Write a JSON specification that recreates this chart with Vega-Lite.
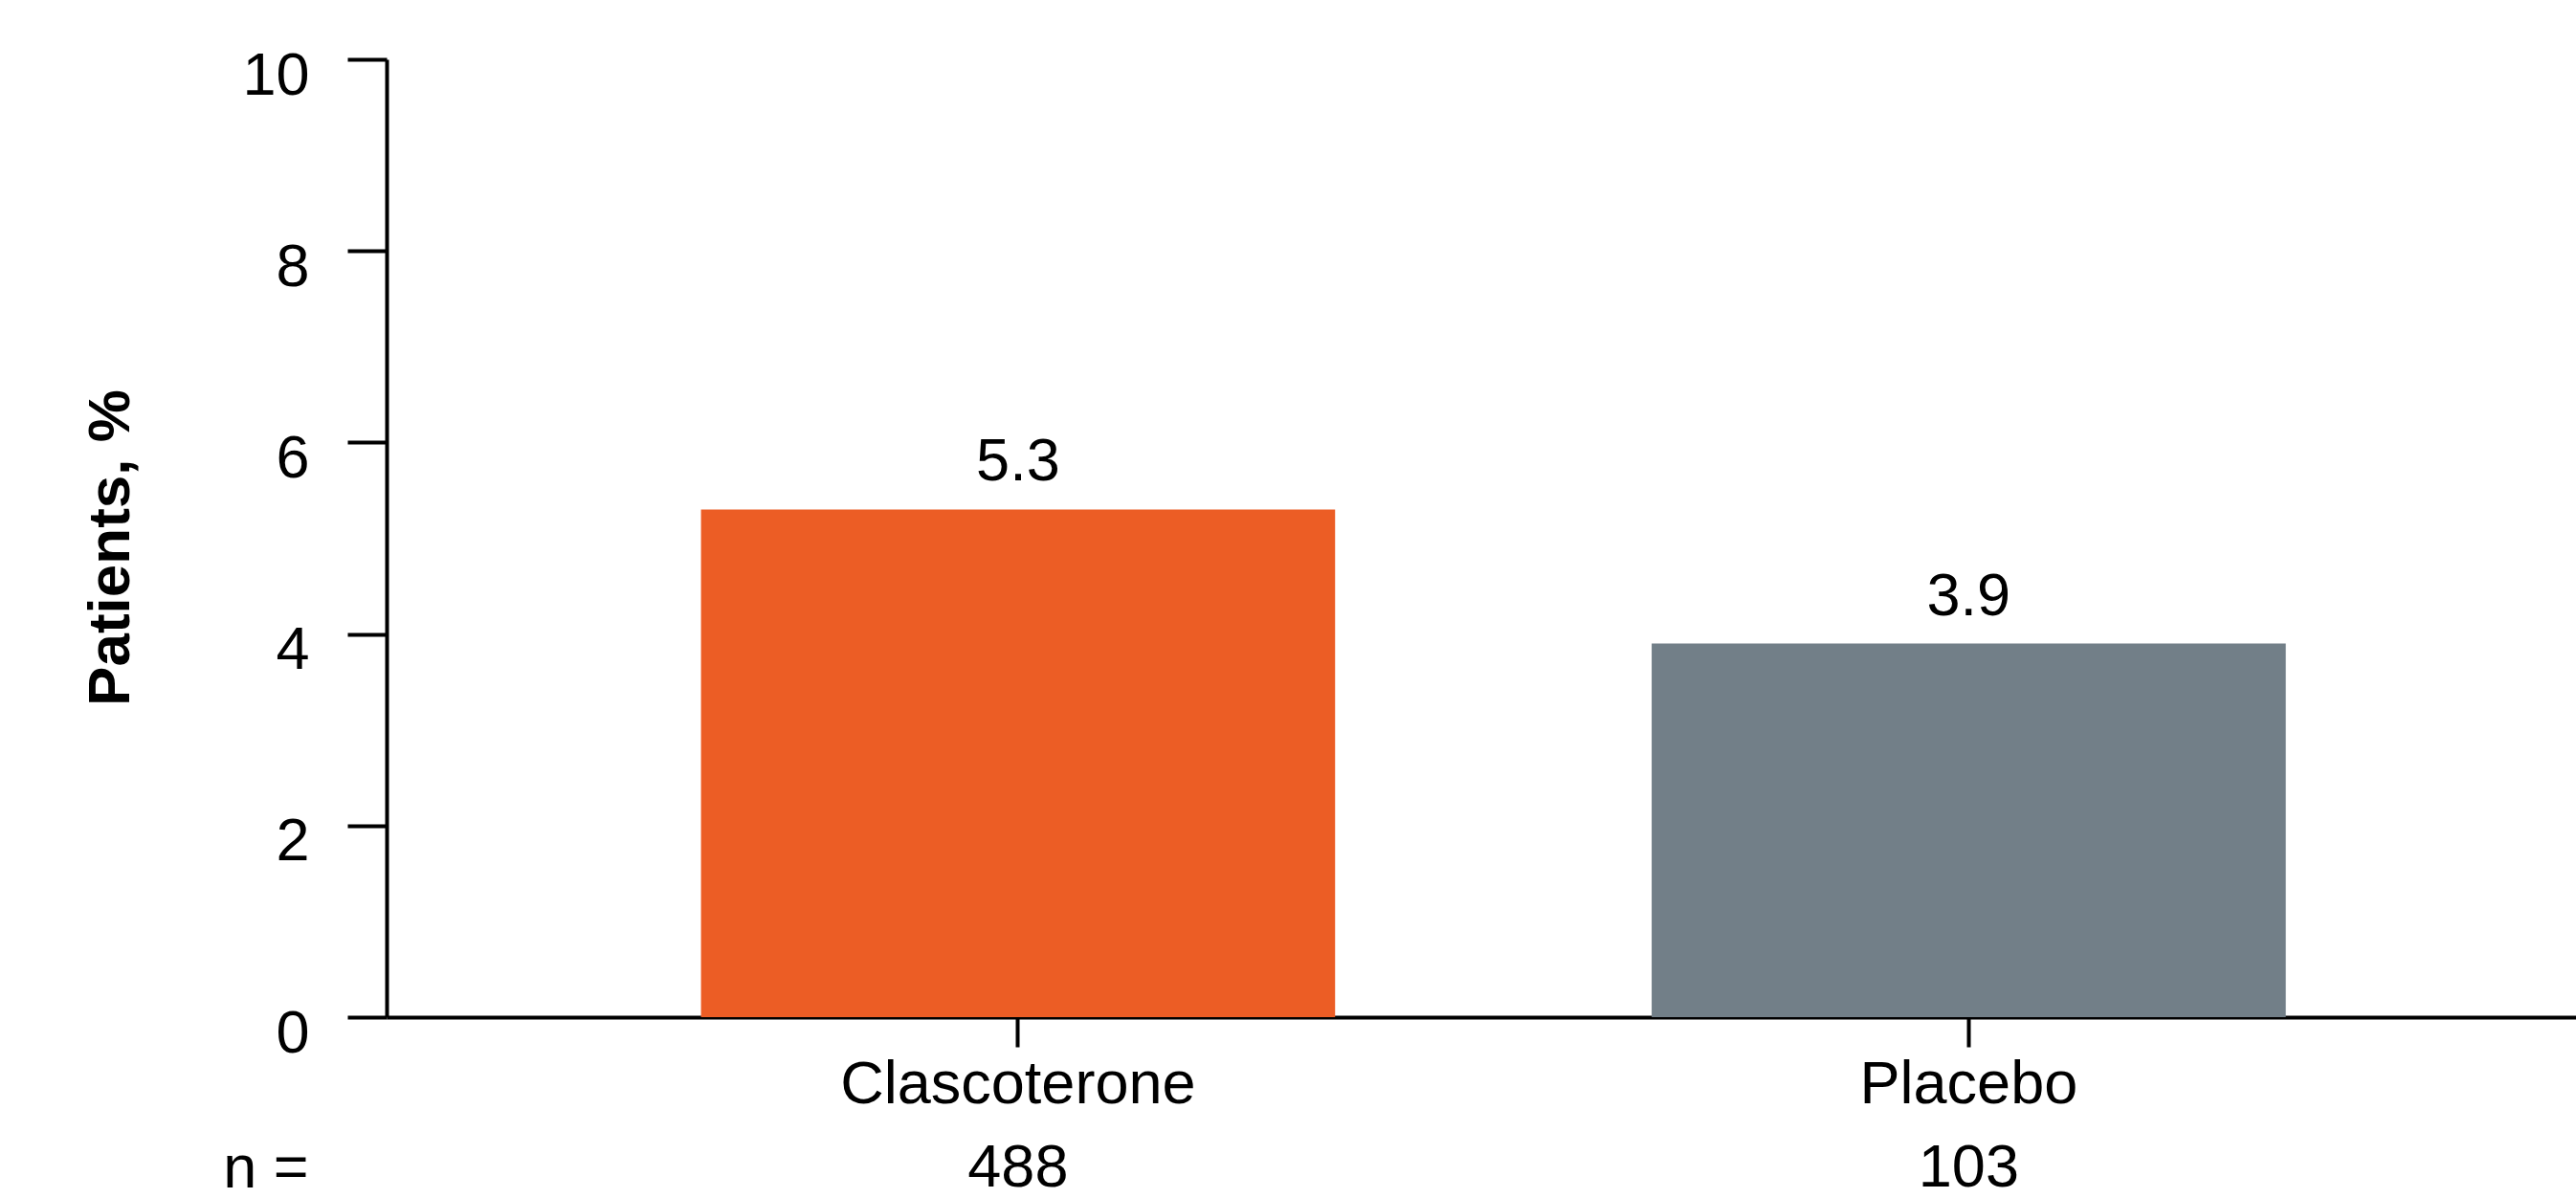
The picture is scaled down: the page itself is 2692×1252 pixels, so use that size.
{
  "$schema": "https://vega.github.io/schema/vega-lite/v6.json",
  "autosize": "none",
  "width": 2288,
  "height": 1001,
  "padding": {"left": 404, "top": 62, "right": 0, "bottom": 189},
  "background": "white",
  "config": {"view": {"stroke": null}, "font": "Liberation Sans"},
  "data": {"values": [
    {"group": "Clascoterone", "pct": 5.3, "n": 488},
    {"group": "Placebo", "pct": 3.9, "n": 103}
  ]},
  "encoding": {
    "x": {
      "field": "group", "type": "nominal", "sort": null,
      "scale": {"paddingInner": 0.333, "paddingOuter": 0.318, "align": 0.52},
      "axis": {
        "title": "n =", "labelAngle": 0, "labelFontSize": 63, "labelColor": "black", "labelLimit": 0,
        "labelBaseline": "alphabetic", "labelPadding": 58,
        "tickSize": 31, "tickWidth": 4, "tickColor": "black",
        "domainColor": "black", "domainWidth": 4,
        "titleFontSize": 63, "titleFontWeight": "normal", "titleColor": "black",
        "titleX": -82, "titleY": 177, "titleAlign": "right", "titleBaseline": "alphabetic", "titleAngle": 0
      }
    },
    "y": {
      "field": "pct", "type": "quantitative",
      "scale": {"domain": [0, 10], "nice": false},
      "axis": {
        "title": "Patients, %", "values": [0, 2, 4, 6, 8, 10], "grid": false,
        "labelFontSize": 63, "labelColor": "black", "labelBaseline": "alphabetic", "labelOffset": 36,
        "labelPadding": 40, "tickSize": 41, "tickWidth": 4, "tickColor": "black",
        "domainColor": "black", "domainWidth": 4,
        "titleFontSize": 62, "titleFontWeight": "bold", "titleColor": "black",
        "titleX": -289, "titleY": 510, "titleAngle": -90, "titleAlign": "center", "titleBaseline": "middle"
      }
    }
  },
  "layer": [
    {
      "mark": {"type": "bar"},
      "encoding": {
        "color": {
          "field": "group", "type": "nominal",
          "scale": {"domain": ["Clascoterone", "Placebo"], "range": ["#EC5D25", "#727F88"]},
          "legend": null
        }
      }
    },
    {
      "mark": {"type": "text", "fontSize": 63, "baseline": "alphabetic", "dy": -30, "color": "black"},
      "encoding": {"text": {"field": "pct", "type": "quantitative", "format": ".1f"}}
    },
    {
      "mark": {"type": "text", "fontSize": 63, "baseline": "alphabetic", "dy": 177, "color": "black"},
      "encoding": {
        "y": {"datum": 0},
        "text": {"field": "n", "type": "quantitative"}
      }
    }
  ]
}
